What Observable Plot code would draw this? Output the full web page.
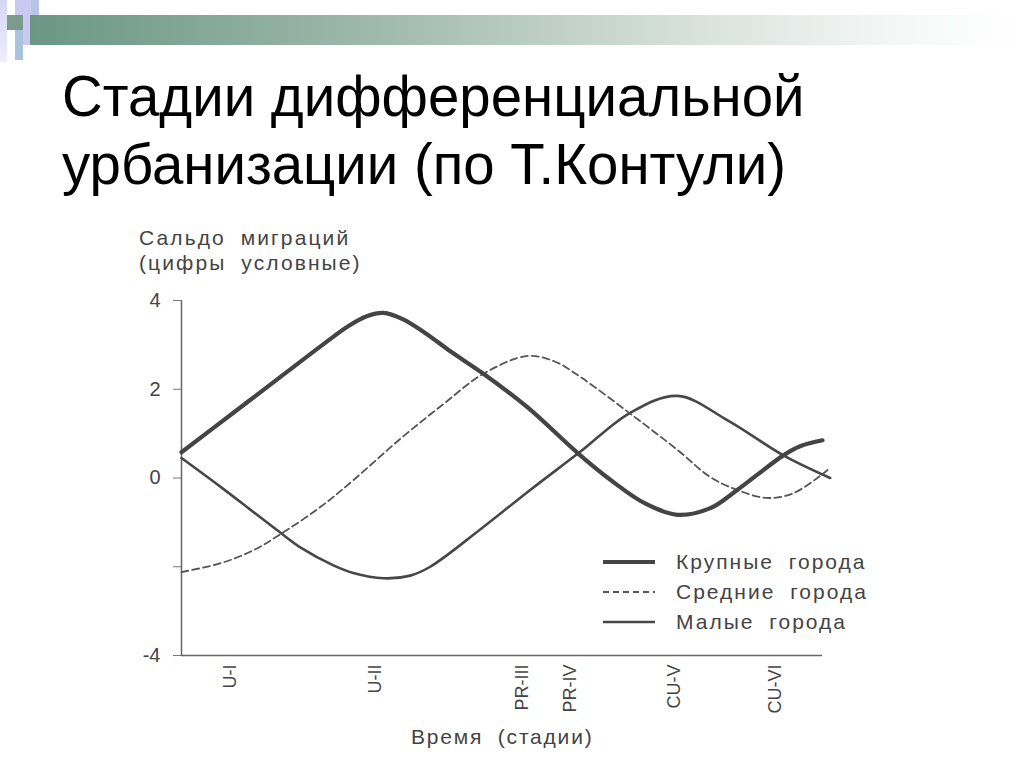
<!DOCTYPE html>
<html><head><meta charset="utf-8">
<script src="https://cdn.jsdelivr.net/npm/d3@7"></script>
<script src="https://cdn.jsdelivr.net/npm/@observablehq/plot@0.6"></script>
<style>
body{margin:0;width:1024px;height:768px;position:relative;overflow:hidden;background:#fff;font-family:"Liberation Sans",Arial,sans-serif;}
.abs{position:absolute;}
#bar{left:30px;top:15px;width:994px;height:30px;background:linear-gradient(to right,#6b9784 0%,#9fb9ad 35%,#d5dfda 65%,#f6f8f7 88%,#ffffff 100%);}
#title{left:62px;top:62px;font-size:58px;line-height:68px;color:#000;white-space:nowrap;transform:scaleX(0.972);transform-origin:0 0;}
#chart{left:0;top:200px;}
.ctext{color:#444;font-size:21px;letter-spacing:2.1px;word-spacing:7px;white-space:nowrap;}
</style></head><body>
<div class="abs" style="left:0;top:0;width:7px;height:62px;background:linear-gradient(to bottom,#d6d6f6,#eeeefc);"></div>
<div class="abs" style="left:15px;top:0;width:16px;height:15px;background:#c9c9f2;"></div>
<div class="abs" style="left:31px;top:0;width:8px;height:30px;background:#b6c6e6;"></div>
<div class="abs" style="left:23px;top:15px;width:9px;height:30px;background:#c9c9f2;"></div>
<div class="abs" style="left:15px;top:30px;width:8px;height:30px;background:#a9c3dc;"></div>
<div class="abs" id="bar"></div>
<div class="abs" style="left:7px;top:15px;width:16px;height:15px;background:#7b9b8c;"></div>
<div class="abs" id="title">Стадии дифференциальной<br>урбанизации (по Т.Контули)</div>
<div class="abs" id="chart"></div>
<div class="abs ctext" style="left:139px;top:225px;line-height:25px;">Сальдо миграций<br>(цифры условные)</div>
<div class="abs ctext" style="left:411px;top:725px;letter-spacing:1.8px;">Время (стадии)</div>
<svg class="abs" id="legend" style="left:590px;top:540px;" width="330" height="100"></svg>
<script>
// stage (x) axis
const stages = ["U-I", "U-II", "PR-III", "PR-IV", "CU-V", "CU-VI"];
const stagePos = [0.76, 3.03, 5.32, 6.07, 7.68, 9.27];
// y axis ticks
const yTicks = [4, 2, 0, -2, -4];
const yTickLabels = ["4", "2", "0", "", "-4"];
// series names
const seriesNames = ["Крупные города", "Средние города", "Малые города"];
// Крупные города (large cities)
const largeT = [0, 0.8, 1.6, 2.2, 2.6, 2.9, 3.15, 3.45, 3.8, 4.2, 4.71, 5.40, 6.19, 6.69, 7.24, 7.74, 8.25, 8.67, 9.39, 9.66, 10.0];
const largeV = [0.58, 1.46, 2.34, 3.0, 3.42, 3.65, 3.72, 3.58, 3.27, 2.85, 2.35, 1.59, 0.55, -0.04, -0.58, -0.83, -0.68, -0.27, 0.51, 0.72, 0.85];
// Средние города (medium cities)
const mediumT = [0, 0.61, 1.12, 1.54, 2.17, 2.68, 3.42, 4.09, 4.71, 5.40, 5.83, 6.22, 7.00, 7.74, 8.25, 8.67, 9.14, 9.55, 10.08];
const mediumV = [-2.12, -1.92, -1.63, -1.27, -0.65, -0.05, 0.89, 1.67, 2.35, 2.75, 2.62, 2.28, 1.45, 0.63, 0.02, -0.27, -0.45, -0.34, 0.18];
// Малые города (small cities)
const smallT = [0, 0.61, 1.08, 1.54, 1.86, 2.37, 2.68, 3.15, 3.57, 3.88, 4.66, 5.44, 6.22, 7.00, 7.74, 8.52, 9.39, 10.12];
const smallV = [0.45, -0.2, -0.72, -1.23, -1.57, -1.97, -2.14, -2.26, -2.2, -2.0, -1.16, -0.27, 0.59, 1.47, 1.85, 1.3, 0.51, 0.0];

const toRows = (T, V, s) => T.map((t, i) => ({t, v: V[i], s}));
const large = toRows(largeT, largeV, seriesNames[0]);
const medium = toRows(mediumT, mediumV, seriesNames[1]);
const small = toRows(smallT, smallV, seriesNames[2]);

const styles = [
  {stroke: "#444", strokeWidth: 4.2, strokeDasharray: null},
  {stroke: "#555", strokeWidth: 1.8, strokeDasharray: "7,4"},
  {stroke: "#474747", strokeWidth: 2.6, strokeDasharray: null}
];

const chart = Plot.plot({
  width: 1024, height: 568,
  marginLeft: 181, marginRight: 202, marginTop: 100, marginBottom: 113,
  x: {domain: [0, 10]},
  y: {domain: [-4, 4]},
  style: {fontFamily: "'Liberation Sans', Arial, sans-serif", color: "#444", background: "transparent", overflow: "visible"},
  marks: [
    Plot.axisY({ticks: yTicks, tickFormat: d => yTickLabels[yTicks.indexOf(d)], tickSize: 8, tickPadding: 13, label: null, fontSize: 20, stroke: "#777"}),
    Plot.axisX({ticks: stagePos, tickFormat: d => stages[stagePos.indexOf(d)], tickSize: 0, tickPadding: 9, tickRotate: -90, label: null, fontSize: 18}),
    Plot.ruleX([0], {y1: -4, y2: 4, stroke: "#666", strokeWidth: 1.5}),
    Plot.ruleY([-4], {x1: 0, x2: 10, stroke: "#666", strokeWidth: 1.5}),
    Plot.line(small, {x: "t", y: "v", curve: "catmull-rom", ...styles[2]}),
    Plot.line(medium, {x: "t", y: "v", curve: "catmull-rom", ...styles[1]}),
    Plot.line(large, {x: "t", y: "v", curve: "catmull-rom", ...styles[0]})
  ]
});
document.getElementById("chart").appendChild(chart);

// legend
const lg = d3.select("#legend");
seriesNames.forEach((name, i) => {
  const y = 22 + i * 30;
  lg.append("line").attr("x1", 13).attr("x2", 65).attr("y1", y).attr("y2", y)
    .attr("stroke", styles[i].stroke).attr("stroke-width", i === 0 ? 4 : (i === 1 ? 1.8 : 2.6))
    .attr("stroke-dasharray", i === 1 ? "6,4" : null);
  lg.append("text").attr("x", 86).attr("y", y + 7).text(name)
    .attr("fill", "#444").attr("font-size", 21).attr("letter-spacing", 2).attr("word-spacing", 7)
    .attr("font-family", "'Liberation Sans', Arial, sans-serif");
});
</script>
</body></html>
